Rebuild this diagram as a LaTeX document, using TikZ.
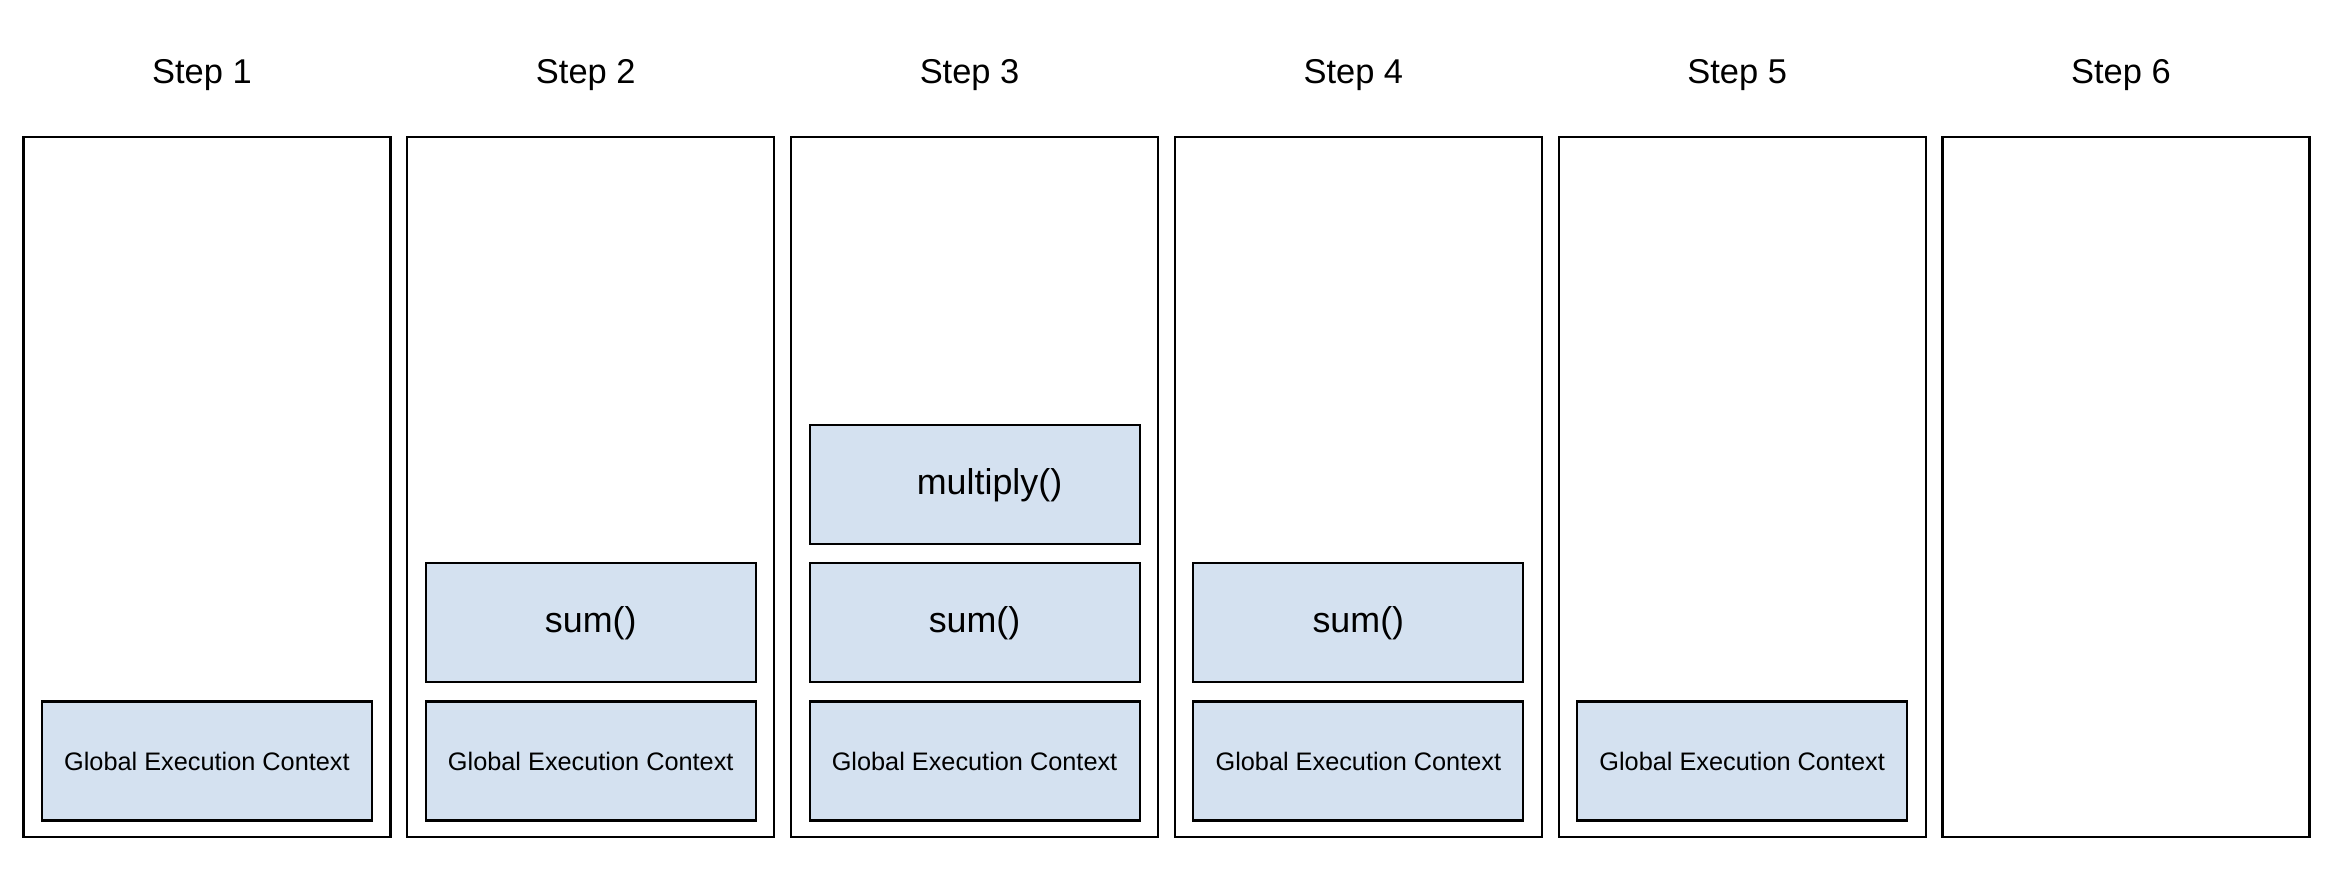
\documentclass[tikz,border=0pt]{standalone}
\usepackage{fontspec}
\setmainfont{Liberation Sans}
\usetikzlibrary{positioning}

\definecolor{ctxblue}{RGB}{212, 225, 240}

\begin{document}
\begin{tikzpicture}[font=\fontsize{9.8}{12}\selectfont,
    stackbox/.style={draw, line width=0.6pt, minimum width=3.67cm, minimum height=7.0cm, inner sep=0pt},
    ctxbox/.style={draw, line width=0.6pt, fill=ctxblue, minimum width=3.30cm, minimum height=1.19cm, inner sep=0pt},
    gectext/.style={font=\fontsize{7.2}{9}\selectfont},
    calltext/.style={font=\fontsize{10.2}{12}\selectfont}]
    \useasboundingbox (0,0) rectangle (23.40,-8.86);
    % one call stack per step
    \foreach \i in {1,...,6} {
        \node[stackbox, anchor=north west] (stack\i) at ({0.224+(\i-1)*3.838},-1.358) {};
        \node (title\i) at ([xshift=-0.05cm, yshift=0.61cm]stack\i.north) {Step \i};
    }
    % global context sits at the bottom until step 6
    \foreach \i in {1,...,5}
        \node[ctxbox, gectext, above=0.164cm of stack\i.south] (gec\i) {Global Execution Context};
    \foreach \i in {2,3,4}
        \node[ctxbox, calltext, above=0.17cm of gec\i] (sum\i) {sum()};
    \node[ctxbox, calltext, above=0.17cm of sum3] (multiply3) {\hspace*{0.3cm}multiply()};
\end{tikzpicture}
\end{document}
